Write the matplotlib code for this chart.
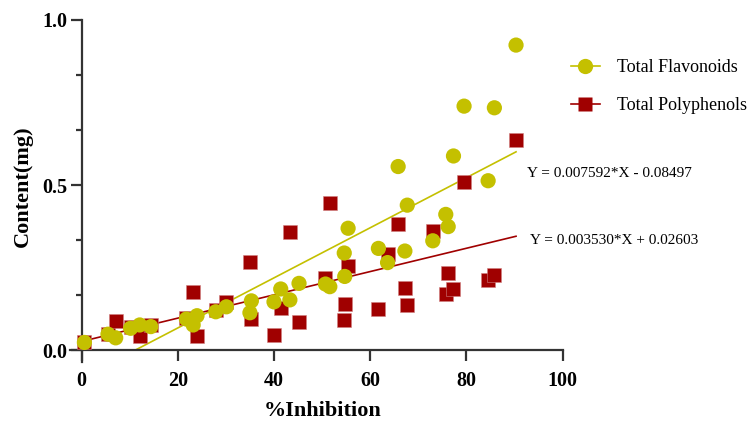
import matplotlib
matplotlib.use("Agg")
import matplotlib.pyplot as plt
from matplotlib.lines import Line2D
from matplotlib.ticker import MultipleLocator
import numpy as np

plt.rcParams['font.family'] = ['Liberation Serif', 'DejaVu Serif']

# % inhibition (shared x values)
inhibition = [0.6, 5.5, 7.1, 10.2, 12.1, 14.4, 21.8, 23.2, 24.0, 27.9,
              30.1, 35.3, 35.0, 40.0, 41.4, 43.3, 45.2, 50.7, 51.6, 54.7,
              54.6, 55.4, 61.7, 63.6, 65.8, 67.2, 67.7, 73.0, 75.7, 76.2,
              77.3, 79.5, 84.5, 85.8, 90.3]

# Total flavonoids content (mg)
flavonoids = [0.023, 0.048, 0.037, 0.066, 0.076, 0.071, 0.094, 0.076, 0.104, 0.116,
              0.131, 0.149, 0.113, 0.146, 0.185, 0.152, 0.202, 0.200, 0.192, 0.223,
              0.294, 0.369, 0.308, 0.265, 0.556, 0.300, 0.439, 0.331, 0.411, 0.374,
              0.588, 0.739, 0.513, 0.734, 0.924]

# Total polyphenols content (mg)
polyphenols = [0.023, 0.050, 0.089, 0.071, 0.042, 0.076, 0.096, 0.177, 0.042, 0.121,
               0.146, 0.093, 0.268, 0.045, 0.126, 0.359, 0.084, 0.219, 0.446, 0.139,
               0.091, 0.255, 0.125, 0.291, 0.382, 0.187, 0.136, 0.362, 0.169, 0.232,
               0.184, 0.510, 0.212, 0.227, 0.636]

# linear fits as printed on the chart
flav_fit = (0.007592, -0.08497)
poly_fit = (0.003530, 0.02603)

yellow = '#c4c000'
red = '#a00000'

fig = plt.figure(figsize=(7.54, 4.21), dpi=100)
ax = fig.add_axes([0.0928, 0.1411, 0.6535, 0.8114])

x = np.array(inhibition)
xs = np.linspace(x.min(), x.max(), 200)
yf = flav_fit[0] * xs + flav_fit[1]
keep = yf >= 0
ax.plot(xs[keep], yf[keep], color=yellow, lw=1.2, zorder=2)
ax.plot(xs, poly_fit[0] * xs + poly_fit[1], color=red, lw=1.2, zorder=2)

ax.scatter(inhibition, polyphenols, marker='s', s=105, color=red,
           edgecolors='#d08080', linewidths=0.4, zorder=3)
ax.scatter(inhibition, flavonoids, marker='o', s=120, color=yellow,
           edgecolors='none', zorder=4)

ax.set_xlim(-2.4, 100)
ax.set_ylim(-0.035, 1.0)
for s in ['top', 'right']:
    ax.spines[s].set_visible(False)
for s in ['left', 'bottom']:
    ax.spines[s].set_position(('data', 0))
    ax.spines[s].set_linewidth(1.6)
    ax.spines[s].set_color('#333333')

ax.set_xticks([0, 20, 40, 60, 80, 100])
ax.set_yticks([0.0, 0.5, 1.0])
ax.set_yticklabels(['0.0', '0.5', '1.0'])
ax.yaxis.set_minor_locator(MultipleLocator(1 / 6))
ax.tick_params(axis='both', which='major', length=8, width=1.6, color='#333333',
               labelsize=14.5)
ax.tick_params(axis='x', which='major', pad=7)
ax.tick_params(axis='y', which='major', pad=2.5)
ax.tick_params(axis='y', which='minor', length=4, width=1.6, color='#333333')
for lab in ax.get_xticklabels() + ax.get_yticklabels():
    lab.set_fontweight('bold')

ax.set_xlabel('%Inhibition', fontsize=16, fontweight='bold')
ax.set_ylabel('Content(mg)', fontsize=16, fontweight='bold')
ax.xaxis.set_label_coords(0.5125, -0.115)
ax.yaxis.set_label_coords(-0.076, 0.514)

handles = [Line2D([], [], color=yellow, lw=1.2, marker='o', markersize=11,
                  markeredgecolor='none', label='Total Flavonoids'),
           Line2D([], [], color=red, lw=1.2, marker='s', markersize=10,
                  markeredgecolor='none', label='Total Polyphenols')]
ax.legend(handles=handles, loc='upper left', bbox_to_anchor=(0.745, 0.881),
          bbox_transform=fig.transFigure, frameon=False, fontsize=13,
          handlelength=1.62, handletextpad=0.96, labelspacing=1.16, borderpad=0)

fig.text(527 / 754, 1 - 173 / 421, 'Y = 0.007592*X - 0.08497', fontsize=11,
         va='center', ha='left')
fig.text(530 / 754, 1 - 240 / 421, 'Y = 0.003530*X + 0.02603', fontsize=11,
         va='center', ha='left')

fig.savefig('out.png', dpi=100)
